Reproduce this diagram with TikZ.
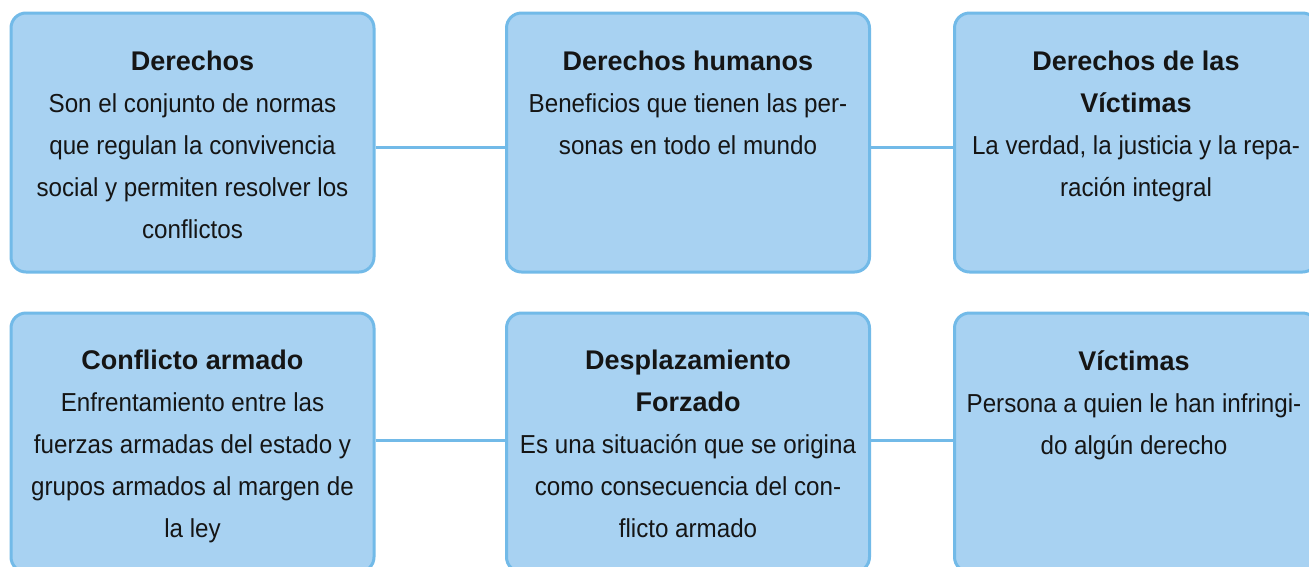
\documentclass[tikz,border=0pt]{standalone}
\usepackage{fontspec}
\setmainfont[FakeStretch=0.93]{Liberation Sans}
\newfontfamily\titlefamily{Liberation Sans}
\newcommand{\ttl}[1]{{\titlefamily\bfseries\fontsize{27}{42}\selectfont #1}}
\definecolor{boxfill}{HTML}{A8D2F2}
\definecolor{boxline}{HTML}{72BAE8}
\definecolor{txt}{HTML}{151515}
\begin{document}
\begin{tikzpicture}[x=1pt,y=-1pt,
  card/.style={draw=boxline,fill=boxfill,line width=3pt,rounded corners=15pt,
    minimum width=363pt,minimum height=259pt,inner sep=0pt},
  cardtext/.style={anchor=north,align=center,text=txt,inner sep=0pt,
    font=\fontsize{26}{42}\selectfont},
  link/.style={draw=boxline,line width=3pt}]
\path[use as bounding box,clip] (0,0) rectangle (1309,566);
\fill[white] (0,0) rectangle (1309,566);
% boxes
\node[card] (b1) at (192.5,142.5) {};
\node[card] (b2) at (688,142.5) {};
\node[card] (b3) at (1136,142.5) {};
\node[card] (b4) at (192.5,442.5) {};
\node[card] (b5) at (688,442.5) {};
\node[card] (b6) at (1136,442.5) {};
% connectors
\draw[link] ([yshift=-4.5pt]b1.east) -- ([yshift=-4.5pt]b2.west);
\draw[link] ([yshift=-4.5pt]b2.east) -- ([yshift=-4.5pt]b3.west);
\draw[link] ([yshift=2.5pt]b4.east) -- ([yshift=2.5pt]b5.west);
\draw[link] ([yshift=2.5pt]b5.east) -- ([yshift=2.5pt]b6.west);
% texts
\node[cardtext] (t1) at (192.5,51) {\ttl{Derechos}\\Son el conjunto de normas\\que regulan la convivencia\\social y permiten resolver los\\conflictos};
\node[cardtext] (t2) at (688,51) {\ttl{Derechos humanos}\\Beneficios que tienen las per-\\sonas en todo el mundo};
\node[cardtext] (t3) at (1136,51) {\ttl{Derechos de las}\\\ttl{Víctimas}\\La verdad, la justicia y la repa-\\ración integral};
\node[cardtext] (t4) at (192.5,350) {\ttl{Conflicto armado}\\Enfrentamiento entre las\\fuerzas armadas del estado y\\grupos armados al margen de\\la ley};
\node[cardtext] (t5) at (688,350) {\ttl{Desplazamiento}\\\ttl{Forzado}\\Es una situación que se origina\\como consecuencia del con-\\flicto armado};
\node[cardtext] (t6) at (1134,350) {\ttl{Víctimas}\\Persona a quien le han infringi-\\do algún derecho};
\end{tikzpicture}
\end{document}
